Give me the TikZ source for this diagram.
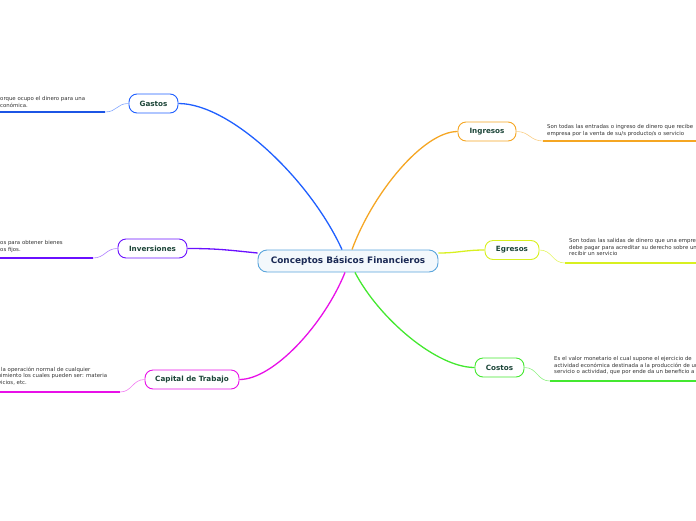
\documentclass[tikz,border=0pt]{standalone}
\usepackage{fontspec}
\setmainfont{DejaVu Sans}
\usetikzlibrary{calc}
\definecolor{gcol}{HTML}{1F5FFF}
\definecolor{icol}{HTML}{6A10FF}
\definecolor{ccol}{HTML}{E810E8}
\definecolor{ingcol}{HTML}{F5A623}
\definecolor{ecol}{HTML}{D8F020}
\definecolor{cocol}{HTML}{44E830}
\definecolor{rootborder}{HTML}{5AA5DC}
\definecolor{rootfill}{HTML}{F3F8FC}
\definecolor{roottext}{HTML}{1B2A55}
\definecolor{nodetext}{HTML}{1C4538}
\definecolor{desctext}{HTML}{333333}
\begin{document}
\begin{tikzpicture}[x=1pt,y=-1pt,
  topic/.style={draw, line width=0.9pt, rounded corners=8pt, fill=white, minimum height=19pt, inner xsep=3pt, inner ysep=2pt, font=\fontsize{7.2}{8}\selectfont\bfseries, text=nodetext},
  desc/.style={anchor=north west, align=left, inner sep=0pt, font=\fontsize{5.4}{6.8}\selectfont, text=desctext},
  branch/.style={line width=1.3pt},
  twig/.style={line width=0.6pt},
  under/.style={line width=1.6pt},
  ]
\useasboundingbox (0,0) rectangle (696,520);
\clip (0,0) rectangle (696,520);

% nodes
\node[draw=rootborder, fill=rootfill, line width=0.9pt, rounded corners=9pt, minimum width=180pt, minimum height=22pt, text=roottext, font=\fontsize{8.9}{10}\selectfont\bfseries] (root) at (348,261) {Conceptos Básicos Financieros};
\node[topic, draw=gcol, minimum width=49pt] (gastos) at (153.5,103.5) {Gastos};
\node[topic, draw=icol, minimum width=69pt] (inversiones) at (152.5,248.5) {Inversiones};
\node[topic, draw=ccol, minimum width=94pt] (capital) at (192,379.5) {Capital de Trabajo};
\node[topic, draw=ingcol, minimum width=58pt] (ingresos) at (487,131.5) {Ingresos};
\node[topic, draw=ecol, minimum width=54pt] (egresos) at (512,250) {Egresos};
\node[topic, draw=cocol, minimum width=49pt] (costos) at (499.5,367.5) {Costos};

% main branches
\draw[branch, gcol] ([xshift=-6pt]root.north) .. controls +(-32,-70) and +(52,0) .. (gastos.east);
\draw[branch, ingcol] ([xshift=4pt]root.north) .. controls +(21,-57) and +(-34,0) .. (ingresos.west);
\draw[branch, ccol] ([xshift=-3pt]root.south) .. controls +(-21,52) and +(34,0) .. (capital.east);
\draw[branch, cocol] ([xshift=7pt]root.south) .. controls +(24,46) and +(-38,0) .. (costos.west);
\draw[branch, icol] ([yshift=8pt]root.west) .. controls +(-30,-3) and +(30,0) .. (inversiones.east);
\draw[branch, ecol] ([yshift=8pt]root.east) .. controls +(20,0) and +(-20,0) .. (egresos.west);

% description underlines
\coordinate (gu) at (105,112); \coordinate (gu0) at (0,112);
\coordinate (iu) at (93,258); \coordinate (iu0) at (0,258);
\coordinate (cu) at (120,392); \coordinate (cu0) at (0,392);
\coordinate (ingu) at (543,141); \coordinate (ingu1) at (696,141);
\coordinate (eu) at (565,263); \coordinate (eu1) at (696,263);
\coordinate (cou) at (550,381); \coordinate (cou1) at (696,381);

\draw[twig, gcol!55] (gastos.west) .. controls +(-12,0) and +(12,0) .. (gu);
\draw[twig, icol!55] (inversiones.west) .. controls +(-12,0) and +(12,0) .. (iu);
\draw[twig, ccol!55] (capital.west) .. controls +(-12,0) and +(12,0) .. (cu);
\draw[twig, ingcol!55] (ingresos.east) .. controls +(13,0) and +(-13,0) .. (ingu);
\draw[twig, ecol!70] (egresos.east) .. controls +(13,0) and +(-13,0) .. (eu);
\draw[twig, cocol!60] (costos.east) .. controls +(13,0) and +(-13,0) .. (cou);

\draw[under, gcol!90!black] (gu) -- (gu0);
\draw[under, icol] (iu) -- (iu0);
\draw[under, ccol] (cu) -- (cu0);
\draw[under, ingcol] (ingu) -- (ingu1);
\draw[under, ecol] (eu) -- (eu1);
\draw[under, cocol] (cou) -- (cou1);

% descriptions
\node[desc] (gdesc) at (0,96.5) {\llap{p}orque ocupo el dinero para una\\\llap{e}conómica.};
\node[desc] (idesc) at (0,240.5) {\llap{recurs}os para obtener bienes\\\llap{activ}os fijos.};
\node[desc] (cdesc) at (1,366.5) {\llap{para }la operación normal de cualquier\\\llap{manten}imiento los cuales pueden ser: materia\\\llap{serv}icios, etc.};
\node[desc] (ingdesc) at (547,124) {Son todas las entradas o ingreso de dinero que recibe\\empresa por la venta de su/s producto/s o servicio};
\node[desc] (edesc) at (569,238) {Son todas las salidas de dinero que una empresa\\debe pagar para acreditar su derecho sobre un\\recibir un servicio};
\node[desc] (codesc) at (554,356) {Es el valor monetario el cual supone el ejercicio de\\actividad económica destinada a la producción de un\\servicio o actividad, que por ende da un beneficio a};
\end{tikzpicture}
\end{document}
